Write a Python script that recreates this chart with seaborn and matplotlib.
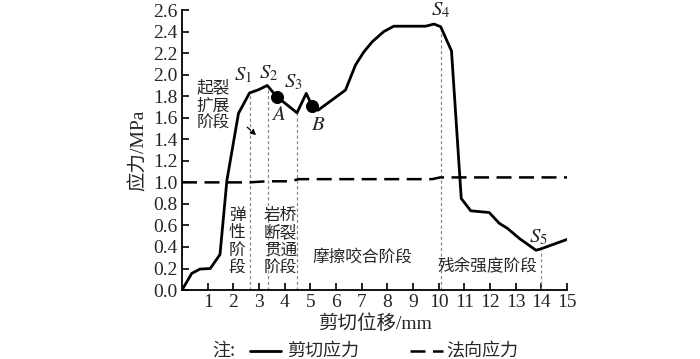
import matplotlib
matplotlib.use("Agg")
import matplotlib.pyplot as plt
import seaborn as sns
import pandas as pd
from matplotlib.lines import Line2D

# ---- data ----
shear_x = [0.0, 0.38, 0.7, 1.1, 1.48, 1.75, 2.2, 2.63, 2.98, 3.32, 3.57, 3.7, 4.48, 4.84,
           5.07, 5.3, 6.37, 6.76, 7.08, 7.41, 7.86, 8.25, 9.49, 9.82, 10.08, 10.5,
           10.88, 11.25, 11.97, 12.36, 12.68, 13.14, 13.79, 13.95, 15.0]
shear_y = [0.0, 0.155, 0.195, 0.2, 0.33, 1.02, 1.64, 1.83, 1.86, 1.90, 1.83, 1.795, 1.646, 1.826,
           1.71, 1.67, 1.857, 2.09, 2.21, 2.305, 2.40, 2.45, 2.45, 2.47, 2.445, 2.22,
           0.85, 0.736, 0.72, 0.62, 0.573, 0.48, 0.37, 0.38, 0.47]
normal_x = [0.0, 2.62, 3.3, 4.2, 4.55, 9.75, 10.05, 15.0]
normal_y = [1.0, 1.0, 1.01, 1.01, 1.03, 1.03, 1.046, 1.046]

marker_names = ["A", "B"]
marker_x = [3.7, 5.07]
marker_y = [1.795, 1.71]

stage_x = [2.63, 3.35, 4.48, 10.08, 13.98]
stage_top = [1.83, 1.90, 1.646, 2.445, 0.37]
stage_names = ["S_1", "S_2", "S_3", "S_4", "S_5"]

x_ticks = list(range(1, 16))
y_ticks = [round(0.2 * i, 1) for i in range(14)]

stage_texts = ["弹\n性\n阶\n段", "岩桥\n断裂\n贯通\n阶段", "摩擦咬合阶段", "残余强度阶段", "起裂\n扩展\n阶段"]
legend_labels = ["剪切应力", "法向应力"]

# ---- plotting ----
sns.set_theme(style="ticks")
plt.rcParams["font.family"] = ["Liberation Serif", "Noto Sans CJK SC", "DejaVu Sans"]
plt.rcParams["mathtext.fontset"] = "stix"
plt.rcParams["xtick.direction"] = "in"
plt.rcParams["ytick.direction"] = "in"

fig = plt.figure(figsize=(7.0, 3.59), dpi=100)
ax = fig.add_axes([0.26, 0.192, 0.55, 0.78])

shear = pd.DataFrame({"x": shear_x, "y": shear_y})
normal = pd.DataFrame({"x": normal_x, "y": normal_y})
sns.lineplot(data=shear, x="x", y="y", ax=ax, color="black", lw=2.0, sort=False,
             estimator=None, legend=False)
sns.lineplot(data=normal, x="x", y="y", ax=ax, color="black", lw=1.8, sort=False,
             estimator=None, legend=False)
ax.lines[1].set_dashes([6, 3])
sns.scatterplot(x=marker_x, y=marker_y, ax=ax, color="black", s=75, zorder=5,
                edgecolor="black", legend=False)

for xv, top in zip(stage_x, stage_top):
    ax.plot([xv, xv], [0, top], color="#888888", lw=0.9, ls=(0, (2.5, 2)), zorder=1)

ax.set_xlim(0, 15)
ax.set_ylim(0, 2.6)
ax.set_xticks(x_ticks)
ax.set_xticklabels([str(t) for t in x_ticks])
ax.set_yticks(y_ticks)
ax.set_yticklabels([f"{t:.1f}" for t in y_ticks])
ax.tick_params(axis="both", labelsize=14, length=5, width=1.2, color="black", pad=3)
for s in ["left", "bottom"]:
    ax.spines[s].set_linewidth(1.3)
    ax.spines[s].set_color("black")
sns.despine(ax=ax)

ax.set_xlabel("剪切位移/mm", fontsize=14, labelpad=2)
ax.set_ylabel("应力/MPa", fontsize=14, labelpad=4)

cjk = ["Noto Sans CJK SC", "DejaVu Sans"]
# S labels
s_pos = [(2.38, 1.99), (3.36, 2.01), (4.34, 1.93), (10.08, 2.6), (13.87, 0.49)]
for name, (xv, yv) in zip(stage_names, s_pos):
    ax.text(xv, yv, f"${name}$", fontsize=15, ha="center", va="center")
for name, xv, yv in zip(marker_names, [3.75, 5.31], [1.62, 1.53]):
    ax.text(xv, yv, f"${name}$", fontsize=15, ha="center", va="center")

ax.text(2.15, 0.45, stage_texts[0], family=cjk, fontsize=12, ha="center", va="center", linespacing=1.05)
ax.text(3.83, 0.45, stage_texts[1], family=cjk, fontsize=12, ha="center", va="center", linespacing=1.05)
ax.text(7.03, 0.31, stage_texts[2], family=cjk, fontsize=12, ha="center", va="center")
ax.text(11.9, 0.23, stage_texts[3], family=cjk, fontsize=12, ha="center", va="center")
ax.text(1.2, 1.71, stage_texts[4], family=cjk, fontsize=12, ha="center", va="center", linespacing=1.05)
ax.annotate("", xy=(2.97, 1.42), xytext=(2.46, 1.53),
            arrowprops=dict(arrowstyle="-|>", color="black", lw=0.9, ls="--", mutation_scale=8))

# legend (drawn manually in figure pixel fractions)
W, H = 700.0, 359.0
ly = 1 - 351 / H
fig.text(212 / W, ly, "注:", family=cjk, fontsize=13, ha="left", va="center")
fig.add_artist(Line2D([250 / W, 281 / W], [ly, ly], color="black", lw=2.0, transform=fig.transFigure))
fig.text(287 / W, ly, legend_labels[0], family=cjk, fontsize=13, ha="left", va="center")
fig.add_artist(Line2D([410 / W, 443 / W], [ly, ly], color="black", lw=1.8, dashes=[6, 3],
                      transform=fig.transFigure))
fig.text(446 / W, ly, legend_labels[1], family=cjk, fontsize=13, ha="left", va="center")

fig.savefig("out.png", dpi=100)
